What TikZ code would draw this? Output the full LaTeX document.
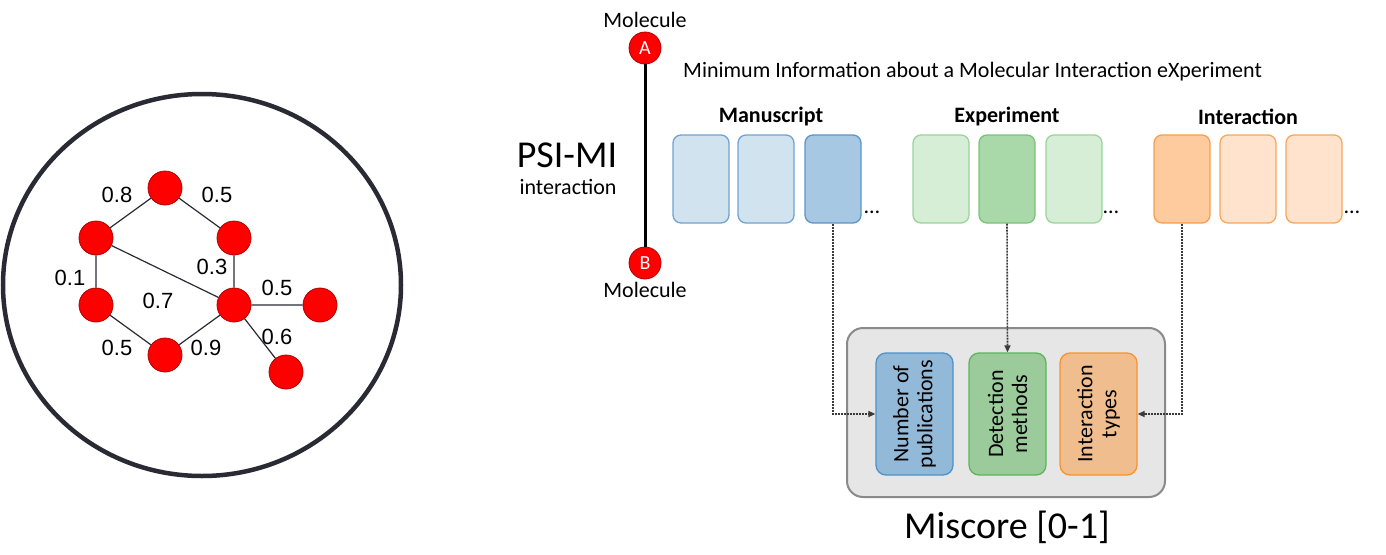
\documentclass[tikz,border=0pt]{standalone}
\usepackage{fontspec}
\setmainfont{Carlito}
\newfontfamily\arialf{Liberation Sans}
\usetikzlibrary{arrows.meta}
\definecolor{mlfill}{HTML}{D2E3F0}\definecolor{mlline}{HTML}{6FA3D0}
\definecolor{mdfill}{HTML}{A7C8E2}\definecolor{mdline}{HTML}{5B95C8}
\definecolor{elfill}{HTML}{D6EDD6}\definecolor{elline}{HTML}{9AD49A}
\definecolor{edfill}{HTML}{A9D8A9}\definecolor{edline}{HTML}{79C279}
\definecolor{ilfill}{HTML}{FFE3CC}\definecolor{illine}{HTML}{F8A65A}
\definecolor{idfill}{HTML}{FDCB9D}\definecolor{idline}{HTML}{F89E4C}
\definecolor{nbfill}{HTML}{92B9D8}\definecolor{nbline}{HTML}{4F91C9}
\definecolor{ngfill}{HTML}{9BCB9B}\definecolor{ngline}{HTML}{5CB55C}
\definecolor{nofill}{HTML}{F0BD8F}\definecolor{noline}{HTML}{F9922E}
\definecolor{msfill}{HTML}{E6E6E6}\definecolor{msline}{HTML}{8A8A8A}
\definecolor{ringc}{HTML}{2A2A35}
\definecolor{nodered}{HTML}{FF0000}\definecolor{noderedline}{HTML}{B00000}
\definecolor{arrc}{HTML}{3A3A3A}
\tikzset{
  gnode/.style={circle,draw=noderedline,fill=nodered,line width=0.8pt,minimum size=34pt,inner sep=0pt},
  gedge/.style={draw=ringc,line width=1.2pt},
  glabel/.style={font=\arialf\fontsize{22}{24}\selectfont,inner sep=0pt},
  molnode/.style={circle,draw=noderedline,fill=nodered,line width=0.8pt,minimum size=32pt,inner sep=0pt,text=white,font=\fontsize{20}{20}\selectfont},
  txt/.style={font=\fontsize{22}{24}\selectfont,inner sep=0pt},
  hdr/.style={font=\bfseries\fontsize{22}{24}\selectfont,inner sep=0pt},
  attr/.style={rounded corners=8pt,line width=1.3pt,minimum width=56pt,minimum height=88pt,inner sep=0pt},
  inner/.style={rounded corners=10pt,line width=1.3pt,minimum width=77pt,minimum height=122pt,inner sep=0pt},
  vtext/.style={rotate=90,align=center,font=\fontsize{22}{24}\selectfont},
  darr/.style={draw=arrc,line width=1.6pt,dash pattern=on 2pt off 1pt,-{Triangle[length=7pt,width=6pt]}},
}
\begin{document}
\begin{tikzpicture}[x=1pt,y=-1pt]
\path[use as bounding box] (0,0) rectangle (1386,554);
% left: network in a ring
\draw[draw=ringc,line width=4.5pt] (202,285) ellipse [x radius=199,y radius=191];
\node[gnode] (g1) at (165,188) {};
\node[gnode] (g2) at (96,238) {};
\node[gnode] (g3) at (234,238) {};
\node[gnode] (g4) at (96,305) {};
\node[gnode] (g5) at (234,305) {};
\node[gnode] (g6) at (165,355) {};
\node[gnode] (g7) at (320,305) {};
\node[gnode] (g8) at (286,372) {};
\path[gedge] (g1) -- (g2) (g1) -- (g3) (g2) -- (g4) (g2) -- (g5) (g3) -- (g5)
  (g4) -- (g6) (g6) -- (g5) (g5) -- (g7) (g5) -- (g8);
\node[glabel] (l1) at (117,195) {0.8};
\node[glabel] (l2) at (217,195) {0.5};
\node[glabel] (l3) at (70,278) {0.1};
\node[glabel] (l4) at (212,267) {0.3};
\node[glabel] (l5) at (158,301) {0.7};
\node[glabel] (l6) at (277,288) {0.5};
\node[glabel] (l7) at (277,337) {0.6};
\node[glabel] (l8) at (117,348) {0.5};
\node[glabel] (l9) at (206,348) {0.9};
% PSI-MI interaction
\node[molnode] (A) at (645,48) {A};
\node[molnode] (B) at (645,263) {B};
\draw[line width=3pt] (A) -- (B);
\node[txt] (mA) at (645,20) {Molecule};
\node[txt] (mB) at (645,290) {Molecule};
\node[font=\fontsize{38}{40}\selectfont,inner sep=0pt] (psi) at (567,155) {PSI-MI};
\node[txt] (inter) at (568,187) {interaction};
\node[txt,anchor=west] (mimix) at (683,72) {Minimum Information about a Molecular Interaction eXperiment};
% headers
\node[hdr] (hm) at (771,117) {Manuscript};
\node[hdr] (he) at (1007,117) {Experiment};
\node[hdr] (hi) at (1248,117) {Interaction};
% attribute boxes
\node[attr,fill=mlfill,draw=mlline] (m1) at (701,179) {};
\node[attr,fill=mlfill,draw=mlline] (m2) at (766,179) {};
\node[attr,fill=mdfill,draw=mdline] (m3) at (833,179) {};
\node[attr,fill=elfill,draw=elline] (e1) at (941,179) {};
\node[attr,fill=edfill,draw=edline] (e2) at (1007,179) {};
\node[attr,fill=elfill,draw=elline] (e3) at (1074,179) {};
\node[attr,fill=idfill,draw=idline] (i1) at (1182,179) {};
\node[attr,fill=ilfill,draw=illine] (i2) at (1248,179) {};
\node[attr,fill=ilfill,draw=illine] (i3) at (1314,179) {};
\node[txt] (d1) at (872,212) {\dots};
\node[txt] (d2) at (1111,212) {\dots};
\node[txt] (d3) at (1352,212) {\dots};
% Miscore
\node[draw=msline,fill=msfill,line width=2pt,rounded corners=16pt,minimum width=318pt,minimum height=169pt,inner sep=0pt] (ms) at (1006,412.5) {};
\node[inner,fill=nbfill,draw=nbline] (nb) at (914.5,414) {};
\node[inner,fill=ngfill,draw=ngline] (ng) at (1007.5,414) {};
\node[inner,fill=nofill,draw=noline] (no) at (1098.5,414) {};
\node[vtext] (tb) at (nb) {Number of\\publications};
\node[vtext] (tg) at (ng) {Detection\\methods};
\node[vtext] (to) at (no) {Interaction\\types};
\node[font=\fontsize{38}{40}\selectfont,inner sep=0pt] (msl) at (1007,527) {Miscore [0-1]};
% arrows
\draw[darr] (m3.south) |- (nb.west);
\draw[darr] (e2.south) -- (ng.north);
\draw[darr] (i1.south) |- (no.east);
\end{tikzpicture}
\end{document}
